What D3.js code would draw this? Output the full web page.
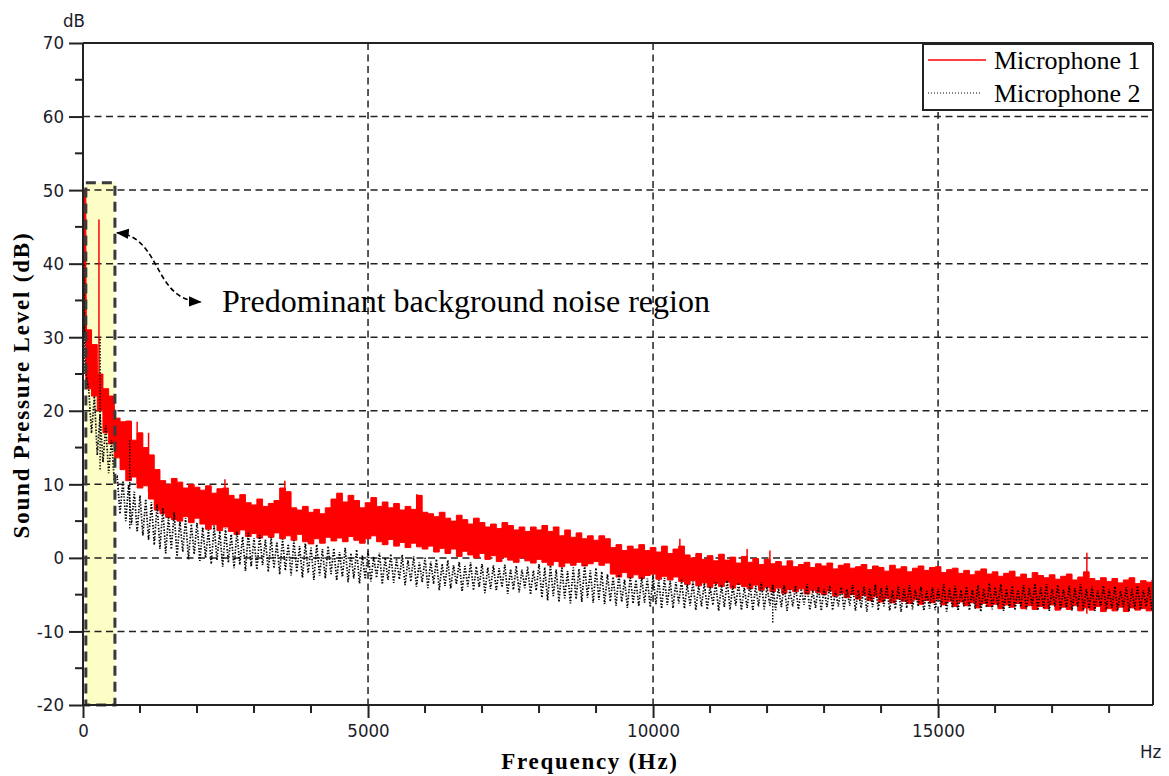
<!DOCTYPE html>
<html>
<head>
<meta charset="utf-8">
<script src="https://cdn.jsdelivr.net/npm/d3@7"></script>
<style>
  html, body { margin: 0; padding: 0; background: #fff; }
  svg { display: block; }
  .tick text { font-family: "Liberation Sans Narrow", "DejaVu Sans Condensed", sans-serif; font-size: 18.5px; fill: #1b1b2a; }
</style>
</head>
<body>
<svg id="chart" width="1169" height="776"></svg>
<script>
// ---------------- data ----------------
const freqHz = d3.range(0, 18900, 100);           // sampling grid, 100 Hz bins
const xTicksMajor = [0, 5000, 10000, 15000];
const yTicksMajor = [-20, -10, 0, 10, 20, 30, 40, 50, 60, 70];
const seriesNames = ["Microphone 1", "Microphone 2"];

// Microphone 1: upper / lower envelope per bin (dB)
const micOneHigh = [
  50, 31, 29, 25, 23, 22, 19, 18.5, 18.6, 16,
  17, 15, 14, 12, 10.5, 10, 10.8, 10.3, 9.5, 10,
  9.6, 9.2, 9.8, 8.8, 9.4, 9.5, 8.5, 8.0, 8.6, 7.5,
  7.2, 8.0, 7.0, 7.4, 7.8, 9.5, 9.0, 6.8, 6.5, 7.0,
  6.2, 6.6, 6.0, 6.8, 8.0, 8.8, 7.6, 8.5, 7.8, 6.8,
  7.5, 8.2, 7.0, 7.6, 6.8, 7.4, 6.5, 7.0, 6.6, 8.5,
  6.2, 6.0, 5.6, 6.2, 5.4, 5.0, 5.8, 5.2, 4.6, 5.4,
  4.8, 4.2, 4.6, 4.0, 4.8, 4.4, 3.8, 4.2, 3.6, 4.2,
  3.8, 4.4, 3.6, 4.2, 3.0, 3.8, 2.8, 3.4, 2.6, 3.0,
  2.4, 3.0, 2.6, 1.4, 1.8, 1.0, 1.6, 1.2, 1.8, 1.0,
  1.4, 0.8, 1.6, 0.6, 1.2, 1.6, 0.4, 0.0, 0.6, -0.2,
  0.3, -0.4, 0.5, -0.3, 0.1, -0.7, 0.2, -0.6, -0.1, -0.9,
  -0.2, -0.8, -0.5, -1.1, -0.4, -1.2, -0.9, -0.6, -1.3, -0.8,
  -1.1, -0.7, -1.5, -1.0, -0.8, -1.4, -1.2, -0.9, -1.6, -1.1,
  -1.3, -1.8, -1.0, -1.5, -1.2, -1.9, -1.4, -1.1, -1.7, -1.3,
  -1.2, -2.0, -1.6, -1.4, -2.1, -1.7, -2.3, -1.8, -1.5, -2.2,
  -1.9, -2.5, -2.1, -1.8, -2.6, -2.2, -2.8, -2.0, -2.4, -2.7,
  -2.3, -2.9, -2.5, -2.2, -3.0, -2.6, -1.9, -2.8, -3.1, -2.7,
  -3.2, -2.8, -3.4, -3.0, -2.7, -3.5, -3.1, -3.3, -3.0
];
const micOneLow = [
  30, 23, 22, 20, 17, 15.5, 13.6, 12, 10.5, 11,
  9.5, 9.8, 8, 6.5, 6, 5.5, 5.2, 5, 5.6, 4.8,
  5.4, 4.6, 3.9, 4.5, 3.7, 4.2, 3.6, 3.2, 3.8, 2.9,
  3.3, 2.7, 3.1, 2.8, 3.4, 2.6, 3.0, 2.4, 3.2, 2.2,
  1.9, 2.6, 2.0, 2.8, 2.3, 2.7, 2.2, 2.9, 2.4, 2.0,
  2.6, 3.0, 2.2, 1.8, 2.5, 1.6, 2.1, 1.4, 2.0, 1.5,
  1.2, 1.6, 0.8, 1.3, 0.6, 1.2, 0.2, 0.9, 0.4, 0.0,
  0.6, -0.2, 0.3, -0.5, 0.1, -0.3, -0.6, 0.0, -0.4, -0.7,
  -0.2, -0.6, -1.0, -0.5, -1.2, -0.7, -1.0, -0.6, -1.1, -0.8,
  -0.5, -1.0, -0.7, -2.2, -2.6, -2.0, -2.7, -2.3, -2.8, -2.4,
  -2.2, -2.9, -2.5, -3.0, -2.6, -3.2, -3.6, -3.1, -3.8, -3.4,
  -4.0, -3.5, -3.9, -3.3, -4.1, -3.6, -3.9, -4.2, -3.7, -4.4,
  -4.0, -4.6, -4.1, -4.8, -4.3, -4.6, -4.2, -4.9, -4.4, -4.7,
  -5.0, -4.5, -5.2, -4.8, -5.4, -5.0, -5.6, -5.1, -5.8, -5.3,
  -6.0, -5.5, -6.1, -5.6, -5.9, -6.2, -5.7, -6.3, -5.8, -6.1,
  -5.6, -6.4, -5.9, -6.6, -6.0, -6.5, -6.1, -6.8, -6.2, -6.6,
  -6.3, -6.9, -6.4, -6.7, -6.2, -6.9, -6.5, -7.0, -6.6, -6.9,
  -6.4, -7.1, -6.7, -7.0, -6.5, -7.2, -6.8, -7.1, -6.6, -7.3,
  -6.9, -7.2, -6.7, -7.3, -6.8, -7.1, -6.9, -7.2, -7.0
];
// Microphone 2: upper / lower envelope per bin (dB)
const micTwoHigh = [
  40, 23, 22, 19.5, 18, 16, 11, 10.5, 10, 9,
  8.5, 8, 7.6, 7.3, 6.8, 5.5, 6.2, 5.0, 5.4, 4.6,
  4.8, 4.2, 3.8, 4.4, 3.6, 4.0, 3.2, 3.6, 2.9, 3.4,
  2.7, 3.1, 2.5, 2.8, 2.2, 2.6, 1.9, 2.4, 1.6, 2.0,
  1.4, 1.8, 1.2, 1.6, 1.3, 0.8, 1.4, 0.6, 1.1, 0.4,
  0.9, 0.2, 0.7, 0.0, 0.5, -0.2, 0.4, -0.3, 0.2, -0.6,
  0.0, -0.5, -0.2, -0.8, -0.3, -1.0, -0.5, -1.1, -0.6, -1.2,
  -0.8, -1.3, -1.0, -1.4, -0.9, -1.5, -1.1, -1.6, -1.2, -1.7,
  -0.8, -1.3, -1.0, -1.6, -1.2, -1.8, -1.3, -1.5, -1.0, -1.7,
  -1.4, -1.9, -2.2, -2.6, -2.3, -2.9, -2.5, -3.0, -2.6, -2.8,
  -2.4, -3.0, -2.7, -3.1, -3.3, -3.0, -3.6, -3.2, -3.8, -3.4,
  -3.9, -3.3, -3.7, -3.1, -3.8, -3.4, -4.0, -3.5, -3.8, -3.3,
  -3.9, -3.6, -4.1, -3.7, -4.3, -3.8, -4.2, -3.6, -4.4, -3.9,
  -4.2, -3.8, -4.5, -4.0, -4.3, -3.7, -4.4, -3.9, -4.2, -3.6,
  -4.1, -3.8, -4.4, -3.9, -4.2, -3.7, -4.3, -3.9, -4.5, -4.0,
  -4.2, -3.6, -4.1, -3.8, -4.4, -3.9, -4.3, -3.7, -4.2, -3.5,
  -4.0, -3.6, -4.2, -3.8, -4.3, -3.7, -4.1, -3.5, -4.0, -3.6,
  -4.2, -3.7, -4.3, -3.8, -4.1, -3.6, -4.2, -3.9, -4.4, -3.8,
  -4.3, -3.9, -4.5, -4.0, -4.2, -3.8, -4.4, -4.0, -4.3
];
const micTwoLow = [
  25, 17, 14, 13, 11.5, 10.5, 6, 5, 4.5, 3.5,
  3.0, 2.4, 1.8, 1.2, 0.6, 1.2, 0.2, 0.8, -0.2, 0.5,
  -0.4, 0.0, -0.8, -0.3, -1.2, -0.6, -1.4, -0.9, -1.8, -1.2,
  -1.6, -1.0, -1.9, -1.4, -2.2, -1.7, -2.4, -1.9, -2.7, -2.1,
  -3.0, -2.4, -2.8, -2.2, -3.1, -2.6, -3.3, -2.8, -3.5, -2.9,
  -3.2, -2.7, -3.6, -3.0, -3.4, -2.9, -3.7, -3.2, -3.9, -3.3,
  -4.1, -3.5, -4.4, -3.8, -4.2, -3.6, -4.6, -3.9, -4.4, -4.0,
  -4.8, -4.2, -4.5, -4.0, -4.9, -4.3, -4.7, -4.1, -5.0, -4.4,
  -5.4, -5.8, -5.2, -6.0, -5.5, -6.2, -5.6, -6.0, -5.4, -6.1,
  -5.7, -6.3, -5.9, -6.5, -6.0, -6.8, -6.2, -6.6, -6.1, -6.7,
  -6.3, -6.9, -6.4, -6.8, -6.2, -6.9, -6.5, -7.1, -6.6, -7.0,
  -6.4, -7.2, -6.7, -7.0, -6.5, -7.1, -6.8, -7.2, -6.6, -7.0,
  -6.5, -7.1, -6.7, -7.2, -6.6, -7.0, -6.4, -7.1, -6.8, -7.2,
  -6.7, -7.1, -6.6, -7.0, -6.5, -7.2, -6.8, -7.3, -6.7, -7.1,
  -6.6, -7.2, -6.9, -7.3, -6.8, -7.0, -6.6, -7.2, -6.9, -7.1,
  -6.7, -7.3, -6.8, -7.2, -6.6, -7.1, -6.9, -7.3, -6.7, -7.0,
  -6.6, -7.2, -6.8, -7.1, -6.7, -7.0, -6.5, -7.1, -6.8, -7.2,
  -6.6, -7.0, -6.8, -7.2, -6.7, -7.1, -6.9, -7.2, -6.6, -7.0,
  -6.8, -7.1, -6.7, -7.2, -6.9, -7.0, -6.6, -7.1, -6.8
];
// isolated narrow spikes: [frequency Hz, bottom dB, top dB]
const micOneSpikes = [[280, 20, 46], [950, 10, 18.5], [1150, 9, 17], [2490, 5, 10.7], [3540, 3, 10.5], [5860, 2, 8.7],
  [10470, -2, 2.6], [11650, -3, 1.2], [12050, -4, 1.0], [17610, -7.6, 0.7]];
const micTwoSpikes = [[20, 25, 40], [300, 12, 30], [820, 4, 16], [12100, -8.8, -4]];
// highlighted region: [fromHz, toHz], [fromDb, toDb]
const regionHz = [50, 560];
const regionDb = [-20, 51];
const annotationText = "Predominant background noise region";

// ---------------- layout ----------------
const svg = d3.select("#chart");
const L = 83, R = 1153, T = 43, B = 705;
const x = d3.scaleLinear().domain([0, 18770]).range([L, R]);
const y = d3.scaleLinear().domain([-20, 70]).range([B, T]);

svg.append("defs").append("clipPath").attr("id", "plotclip")
  .append("rect").attr("x", L).attr("y", T).attr("width", R - L).attr("height", B - T);

// highlight fill (behind everything)
svg.append("rect")
  .attr("x", x(regionHz[0])).attr("y", y(regionDb[1]))
  .attr("width", x(regionHz[1]) - x(regionHz[0]))
  .attr("height", y(regionDb[0]) - y(regionDb[1]))
  .attr("fill", "#fdfdc6");

// grid
const grid = svg.append("g").attr("stroke", "#222").attr("stroke-width", 1.5)
  .attr("stroke-dasharray", "7,4.5").attr("fill", "none");
grid.selectAll(".gy").data(yTicksMajor.filter(v => v > -20 && v < 70)).join("line")
  .attr("x1", L).attr("x2", R).attr("y1", d => y(d)).attr("y2", d => y(d));
grid.selectAll(".gx").data(xTicksMajor.filter(v => v > 0)).join("line")
  .attr("y1", T).attr("y2", B).attr("x1", d => x(d)).attr("x2", d => x(d));

// data
const plot = svg.append("g").attr("clip-path", "url(#plotclip)");
const m1 = freqHz.map((f, i) => ({ f, hi: micOneHigh[i], lo: micOneLow[i] }));
const m2 = freqHz.map((f, i) => ({ f, hi: micTwoHigh[i], lo: micTwoLow[i] }));

plot.append("path").datum(m1)
  .attr("d", d3.area().curve(d3.curveStep).x(d => x(d.f)).y0(d => y(d.lo)).y1(d => y(d.hi)))
  .attr("fill", "#ff0000").attr("stroke", "#ff0000").attr("stroke-width", 1);
const zig1 = [];
m1.forEach(d => { zig1.push([d.f - 25, d.lo]); zig1.push([d.f + 25, d.hi]); });
plot.append("path").datum(zig1)
  .attr("d", d3.line().x(d => x(d[0])).y(d => y(d[1])))
  .attr("fill", "none").attr("stroke", "#ff0000").attr("stroke-width", 1.2);
plot.selectAll(".s1").data(micOneSpikes).join("line")
  .attr("x1", d => x(d[0])).attr("x2", d => x(d[0]))
  .attr("y1", d => y(d[1])).attr("y2", d => y(d[2]))
  .attr("stroke", "#ff0000").attr("stroke-width", 1.5);

const zig = [];
m2.forEach(d => { zig.push([d.f, d.hi]); zig.push([d.f + 50, d.lo]); });
plot.append("path").datum(zig)
  .attr("d", d3.line().x(d => x(d[0])).y(d => y(d[1])))
  .attr("fill", "none").attr("stroke", "#000").attr("stroke-width", 1.7)
  .attr("stroke-dasharray", "1.6,1.3,1.2,1.9");
plot.selectAll(".s2").data(micTwoSpikes).join("line")
  .attr("x1", d => x(d[0])).attr("x2", d => x(d[0]))
  .attr("y1", d => y(d[1])).attr("y2", d => y(d[2]))
  .attr("stroke", "#000").attr("stroke-width", 1.4).attr("stroke-dasharray", "1.5,1.5");

// highlight border
svg.append("rect")
  .attr("x", x(regionHz[0])).attr("y", y(regionDb[1]))
  .attr("width", x(regionHz[1]) - x(regionHz[0]))
  .attr("height", y(regionDb[0]) - y(regionDb[1]))
  .attr("fill", "none").attr("stroke", "#3a3a3a").attr("stroke-width", 3)
  .attr("stroke-dasharray", "10,6");

// frame (top & right)
svg.append("line").attr("x1", L).attr("x2", R).attr("y1", T).attr("y2", T).attr("stroke", "#222").attr("stroke-width", 2);
svg.append("line").attr("x1", R).attr("x2", R).attr("y1", T).attr("y2", B).attr("stroke", "#222").attr("stroke-width", 2);

// axes
const fmt = d => String(d);
const yAxis = d3.axisLeft(y).tickValues(yTicksMajor).tickSize(14).tickPadding(5).tickFormat(fmt);
const gy = svg.append("g").attr("transform", `translate(${L},0)`).call(yAxis);
const yMinor = d3.range(-15, 70, 10);
gy.selectAll(".minor").data(yMinor).join("line").attr("class", "minor")
  .attr("x1", -8).attr("x2", 0).attr("y1", d => y(d)).attr("y2", d => y(d));

const xAxis = d3.axisBottom(x).tickValues(xTicksMajor).tickSize(13).tickPadding(6).tickFormat(fmt);
const gx = svg.append("g").attr("transform", `translate(0,${B})`).call(xAxis);
const xMinor = d3.range(1000, 18770, 1000).filter(v => v % 5000 !== 0);
gx.selectAll(".minor").data(xMinor).join("line").attr("class", "minor")
  .attr("y1", 0).attr("y2", 8).attr("x1", d => x(d)).attr("x2", d => x(d));

[gx, gy].forEach(g => {
  g.select(".domain").attr("stroke", "#222").attr("stroke-width", 2);
  g.selectAll("line").attr("stroke", "#222").attr("stroke-width", 2);
});
gx.select(".domain").attr("d", `M${L},0H${R}`);
gy.select(".domain").attr("d", `M0,${T}V${B}`);

// unit labels
svg.append("text").attr("x", 63).attr("y", 27).attr("font-family", "'Liberation Sans Narrow','DejaVu Sans Condensed',sans-serif")
  .attr("font-size", 18.5).attr("fill", "#1b1b2a").text("dB");
svg.append("text").attr("x", 1140).attr("y", 758).attr("font-family", "'Liberation Sans Narrow','DejaVu Sans Condensed',sans-serif")
  .attr("font-size", 18.5).attr("fill", "#1b1b2a").text("Hz");

// axis titles
svg.append("text").attr("x", (L + R) / 2 - 28).attr("y", 769).attr("text-anchor", "middle")
  .attr("font-family", "'Liberation Serif','Times New Roman',serif").attr("font-weight", "bold")
  .attr("font-size", 23).attr("letter-spacing", 1.7).attr("fill", "#000").text("Frequency (Hz)");
svg.append("text").attr("transform", `translate(29,${(232 + 538) / 2}) rotate(-90)`).attr("text-anchor", "middle")
  .attr("font-family", "'Liberation Serif','Times New Roman',serif").attr("font-weight", "bold")
  .attr("font-size", 23).attr("letter-spacing", 1.8).attr("fill", "#000").text("Sound Pressure Level (dB)");

// legend
const lg = svg.append("g");
lg.append("rect").attr("x", 923).attr("y", 44).attr("width", R - 923).attr("height", 66)
  .attr("fill", "#fff").attr("stroke", "#222").attr("stroke-width", 2);
lg.append("line").attr("x1", 928).attr("x2", 986).attr("y1", 60).attr("y2", 60).attr("stroke", "#ff0000").attr("stroke-width", 1.5);
lg.append("line").attr("x1", 928).attr("x2", 982).attr("y1", 93).attr("y2", 93).attr("stroke", "#000").attr("stroke-width", 1).attr("stroke-dasharray", "1,2");
lg.selectAll("text").data(seriesNames).join("text")
  .attr("x", 994).attr("y", (d, i) => 69 + i * 33)
  .attr("font-family", "'Liberation Serif','Times New Roman',serif").attr("font-size", 26)
  .attr("fill", "#000").text(d => d);

// annotation
const defs = svg.select("defs");
defs.append("marker").attr("id", "ah").attr("viewBox", "0 0 10 10").attr("refX", 9).attr("refY", 5)
  .attr("markerWidth", 8).attr("markerHeight", 8).attr("orient", "auto-start-reverse")
  .append("path").attr("d", "M0,1 L10,5 L0,9 Z").attr("fill", "#000");
const p0 = [x(600), y(44.2)], p3 = [x(2060), y(34.8)];
svg.append("path")
  .attr("d", `M${p0[0]},${p0[1]} C${p0[0] + 45},${p0[1] + 4} ${p0[0] + 35},${p3[1] - 2} ${p3[0]},${p3[1]}`)
  .attr("fill", "none").attr("stroke", "#000").attr("stroke-width", 1.6).attr("stroke-dasharray", "5,3")
  .attr("marker-start", "url(#ah)").attr("marker-end", "url(#ah)");
svg.append("text").attr("x", 222).attr("y", 312)
  .attr("font-family", "'Liberation Serif','Times New Roman',serif").attr("font-size", 32)
  .attr("fill", "#000").text(annotationText);
</script>
</body>
</html>
